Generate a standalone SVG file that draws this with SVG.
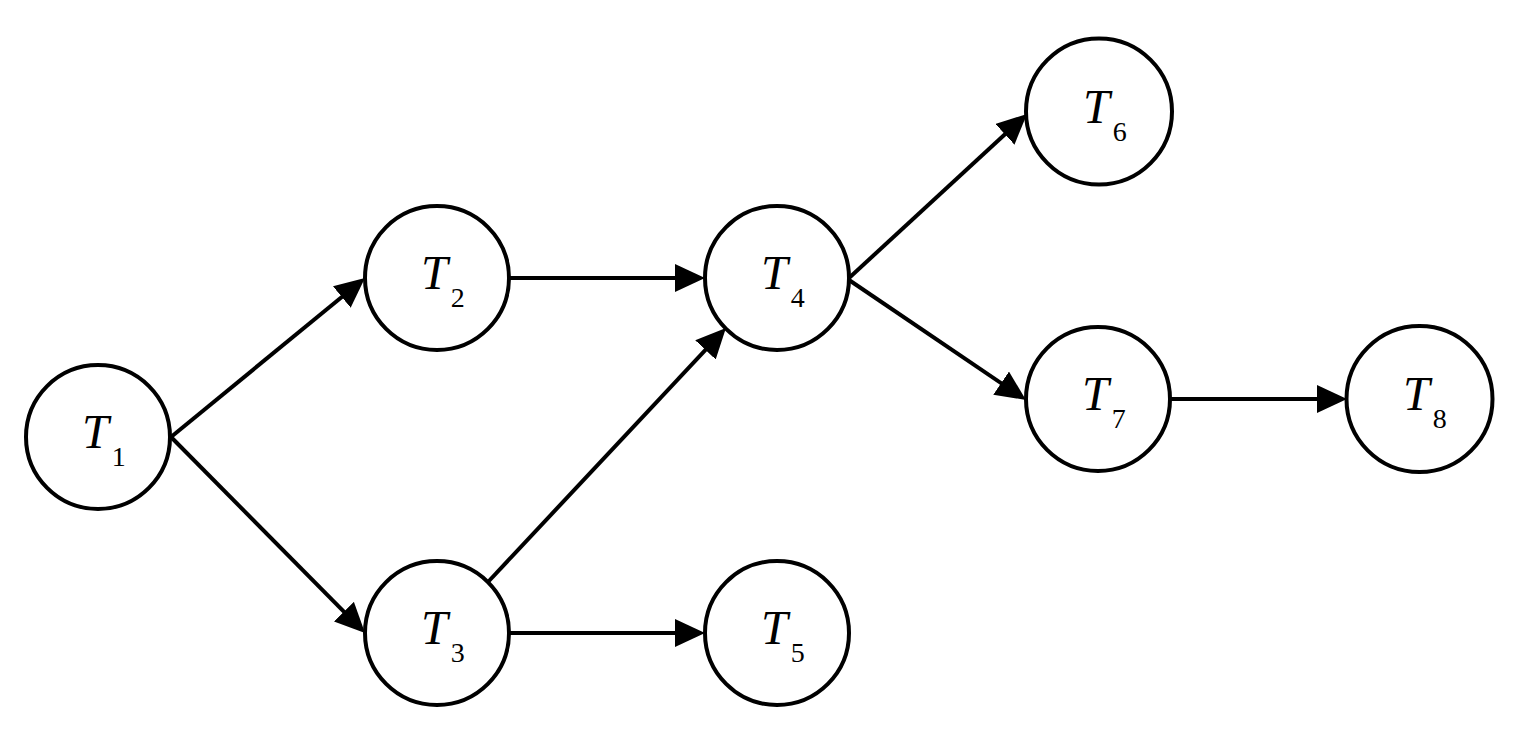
<svg xmlns="http://www.w3.org/2000/svg" width="1515" height="740" viewBox="0 0 1515 740">
<style>
.node circle{fill:#fff;stroke:#000;stroke-width:4}
.lbl{font-family:"Liberation Serif","Times New Roman",serif;font-size:48px;fill:#000}
.lbl .t{font-style:italic}
.lbl .s{font-size:28px}
.edges line{stroke:#000;stroke-width:4;marker-end:url(#arr)}
</style>
<defs>
<marker id="arr" markerUnits="userSpaceOnUse" markerWidth="32" markerHeight="30" refX="21" refY="14" orient="auto">
<path d="M0,0 L30,14 L0,28 z" fill="#000"/>
</marker>
</defs>
<rect width="1515" height="740" fill="#fff"/>
<g class="edges">
<line x1="171" y1="437" x2="358.0" y2="283.7"/>
<line x1="171" y1="437" x2="358.7" y2="626.6"/>
<line x1="509" y1="278" x2="696" y2="278"/>
<line x1="488" y1="582" x2="719.8" y2="334.6"/>
<line x1="509" y1="633" x2="696" y2="633"/>
<line x1="849" y1="278" x2="1020.4" y2="120.1"/>
<line x1="849" y1="280" x2="1018.5" y2="394.9"/>
<line x1="1170" y1="399" x2="1338" y2="399"/>
</g>
<g id="T1" class="node"><circle cx="98" cy="437" r="72"/><text class="lbl" x="82" y="448"><tspan class="t">T</tspan><tspan class="s" dx="3" dy="18">1</tspan></text></g>
<g id="T2" class="node"><circle cx="437" cy="278" r="72"/><text class="lbl" x="421" y="289"><tspan class="t">T</tspan><tspan class="s" dx="3" dy="18">2</tspan></text></g>
<g id="T3" class="node"><circle cx="437" cy="633" r="72"/><text class="lbl" x="421" y="644"><tspan class="t">T</tspan><tspan class="s" dx="3" dy="18">3</tspan></text></g>
<g id="T4" class="node"><circle cx="777" cy="278" r="72"/><text class="lbl" x="761" y="289"><tspan class="t">T</tspan><tspan class="s" dx="3" dy="18">4</tspan></text></g>
<g id="T5" class="node"><circle cx="777" cy="633" r="72"/><text class="lbl" x="761" y="644"><tspan class="t">T</tspan><tspan class="s" dx="3" dy="18">5</tspan></text></g>
<g id="T6" class="node"><circle cx="1099" cy="111.5" r="73"/><text class="lbl" x="1083" y="123"><tspan class="t">T</tspan><tspan class="s" dx="3" dy="18">6</tspan></text></g>
<g id="T7" class="node"><circle cx="1098" cy="399" r="72"/><text class="lbl" x="1082" y="410"><tspan class="t">T</tspan><tspan class="s" dx="3" dy="18">7</tspan></text></g>
<g id="T8" class="node"><circle cx="1419.5" cy="399" r="73"/><text class="lbl" x="1403" y="410"><tspan class="t">T</tspan><tspan class="s" dx="3" dy="18">8</tspan></text></g>
</svg>
